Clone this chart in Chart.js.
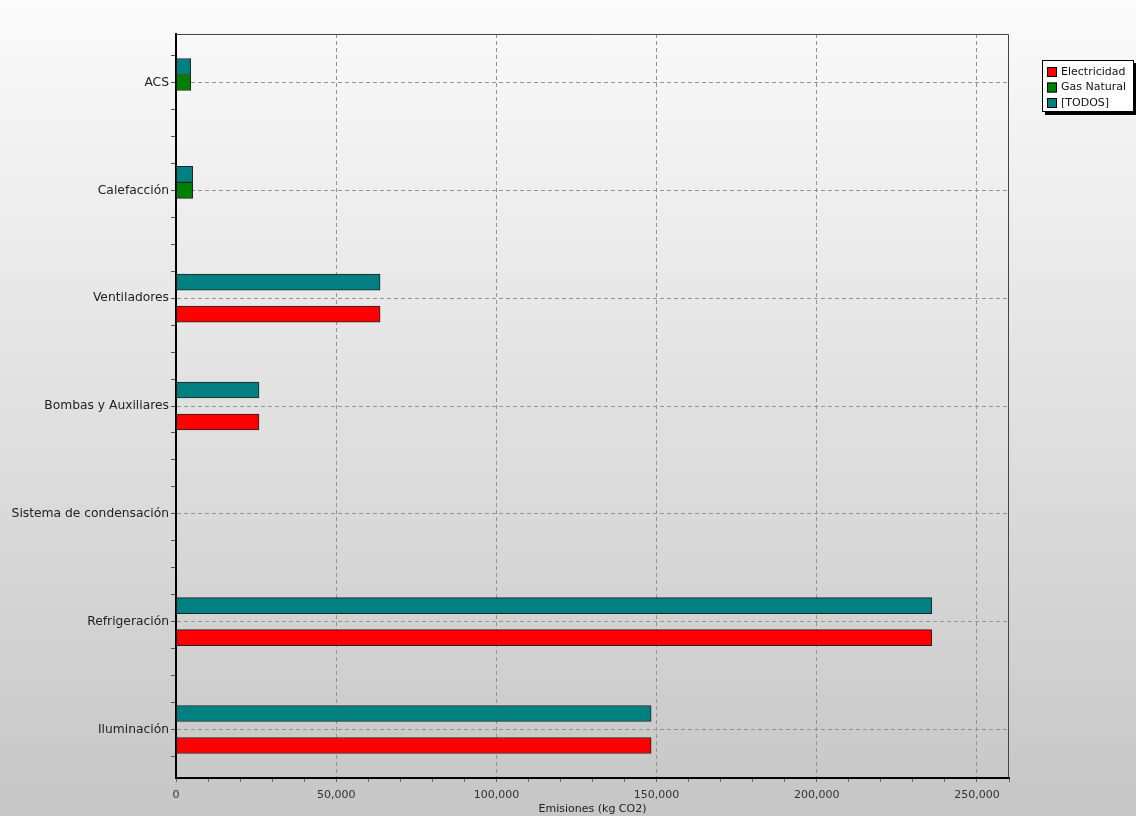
<!DOCTYPE html>
<html>
<head>
<meta charset="utf-8">
<script src="https://cdn.jsdelivr.net/npm/chart.js@4/dist/chart.umd.min.js"></script>
<style>
  body { margin: 0; }
  #wrap { width: 1136px; height: 816px; }
</style>
</head>
<body>
<div id="wrap"><canvas id="emisiones"></canvas></div>
<script>
  const categories = ['ACS', 'Calefacción', 'Ventiladores', 'Bombas y Auxiliares', 'Sistema de condensación', 'Refrigeración', 'Iluminación'];
  const electricidad = [null, null, 63700, 25900, null, 235900, 148300];
  const gasNatural = [4600, 5200, null, null, null, null, null];
  const todos = [4600, 5200, 63700, 25900, null, 235900, 148300];
  const xMax = 260000;

  const FONT = '"DejaVu Sans", Verdana, sans-serif';

  // el eje de categorias es lineal (0..6) para poder poner marcas menores
  const toPoints = arr => arr.map((v, i) => ({ x: v, y: i }));
  const isInt = v => Math.abs(v - Math.round(v)) < 1e-6;
  const isQuarter = v => Math.abs(v * 4 - Math.round(v * 4)) < 1e-6;

  // fondo degradado, marco del area y leyenda propia
  const decor = {
    id: 'decor',
    beforeDraw(chart) {
      const ctx = chart.ctx;
      const g = ctx.createLinearGradient(0, 0, 0, chart.height);
      g.addColorStop(0, '#fbfbfb');
      g.addColorStop(1, '#c6c6c6');
      ctx.save();
      ctx.fillStyle = g;
      ctx.fillRect(0, 0, chart.width, chart.height);
      ctx.restore();
    },
    afterDraw(chart) {
      const ctx = chart.ctx;
      const a = chart.chartArea;
      ctx.save();
      ctx.strokeStyle = '#444';
      ctx.lineWidth = 1;
      ctx.beginPath();
      ctx.moveTo(a.left, a.top + 0.5);
      ctx.lineTo(a.right - 0.5, a.top + 0.5);
      ctx.lineTo(a.right - 0.5, a.bottom);
      ctx.stroke();

      // leyenda
      const lx = 1042, ly = 60, lw = 92, lh = 52;
      ctx.fillStyle = '#000';
      ctx.fillRect(lx + 3, ly + 3, lw, lh);
      ctx.fillStyle = '#fff';
      ctx.fillRect(lx, ly, lw, lh);
      ctx.strokeStyle = '#000';
      ctx.strokeRect(lx + 0.5, ly + 0.5, lw - 1, lh - 1);
      ctx.font = '11px ' + FONT;
      ctx.textBaseline = 'middle';
      chart.data.datasets.forEach((ds, i) => {
        const cy = ly + 12 + i * 15.5;
        ctx.fillStyle = ds.backgroundColor;
        ctx.fillRect(lx + 5, cy - 5, 10, 10);
        ctx.strokeStyle = '#000';
        ctx.strokeRect(lx + 5.5, cy - 4.5, 9, 9);
        ctx.fillStyle = '#111';
        ctx.fillText(ds.label, lx + 19, cy);
      });
      ctx.restore();
    }
  };

  const chart = new Chart(document.querySelector('#emisiones'), {
    type: 'bar',
    data: {
      datasets: [{
        label: 'Electricidad',
        data: toPoints(electricidad),
        backgroundColor: '#ff0000',
        order: 3
      }, {
        label: 'Gas Natural',
        data: toPoints(gasNatural),
        backgroundColor: '#008000',
        order: 2
      }, {
        label: '[TODOS]',
        data: toPoints(todos),
        backgroundColor: '#008080',
        order: 1
      }]
    },
    options: {
      indexAxis: 'y',
      responsive: true,
      maintainAspectRatio: false,
      animation: false,
      layout: { padding: { top: 34, right: 127, left: 0, bottom: 0 } },
      datasets: {
        bar: {
          borderColor: '#222',
          borderWidth: 1,
          borderSkipped: false,
          barThickness: 16
        }
      },
      plugins: {
        legend: { display: false },
        tooltip: { enabled: false }
      },
      scales: {
        x: {
          type: 'linear',
          min: 0,
          max: xMax,
          afterFit: s => { s.height = 38; },
          ticks: {
            stepSize: 10000,
            autoSkip: false,
            maxRotation: 0,
            padding: 7,
            color: '#333',
            font: { family: FONT, size: 11 },
            callback: v => (v % 50000 === 0 ? v.toLocaleString('en-US') : '')
          },
          grid: {
            color: c => (c.tick && c.tick.value % 50000 === 0 && c.tick.value > 0 ? '#939393' : 'rgba(0,0,0,0)'),
            tickColor: '#666',
            tickLength: 4
          },
          border: { color: '#000', width: 2, dash: [4, 3] },
          title: {
            display: true,
            text: 'Emisiones (kg CO2)',
            color: '#222',
            font: { family: FONT, size: 11 },
            padding: { top: 0, bottom: 0 }
          }
        },
        y: {
          type: 'linear',
          reverse: true,
          offset: false,
          min: -0.45,
          max: categories.length - 1 + 0.45,
          afterFit: s => { s.width = 176; },
          ticks: {
            stepSize: 0.25,
            autoSkip: false,
            padding: 2,
            color: '#222',
            font: { family: FONT, size: 12.3 },
            callback: v => (isInt(v) && v >= 0 ? categories[Math.round(v)] : '')
          },
          grid: {
            offset: false,
            color: c => (c.tick && isInt(c.tick.value) && c.tick.value >= 0 ? '#939393' : 'rgba(0,0,0,0)'),
            tickColor: c => (c.tick && isQuarter(c.tick.value) ? '#555' : 'rgba(0,0,0,0)'),
            tickLength: 5
          },
          border: { color: '#000', width: 2, dash: [4, 3] }
        }
      }
    },
    plugins: [decor]
  });
</script>
</body>
</html>
